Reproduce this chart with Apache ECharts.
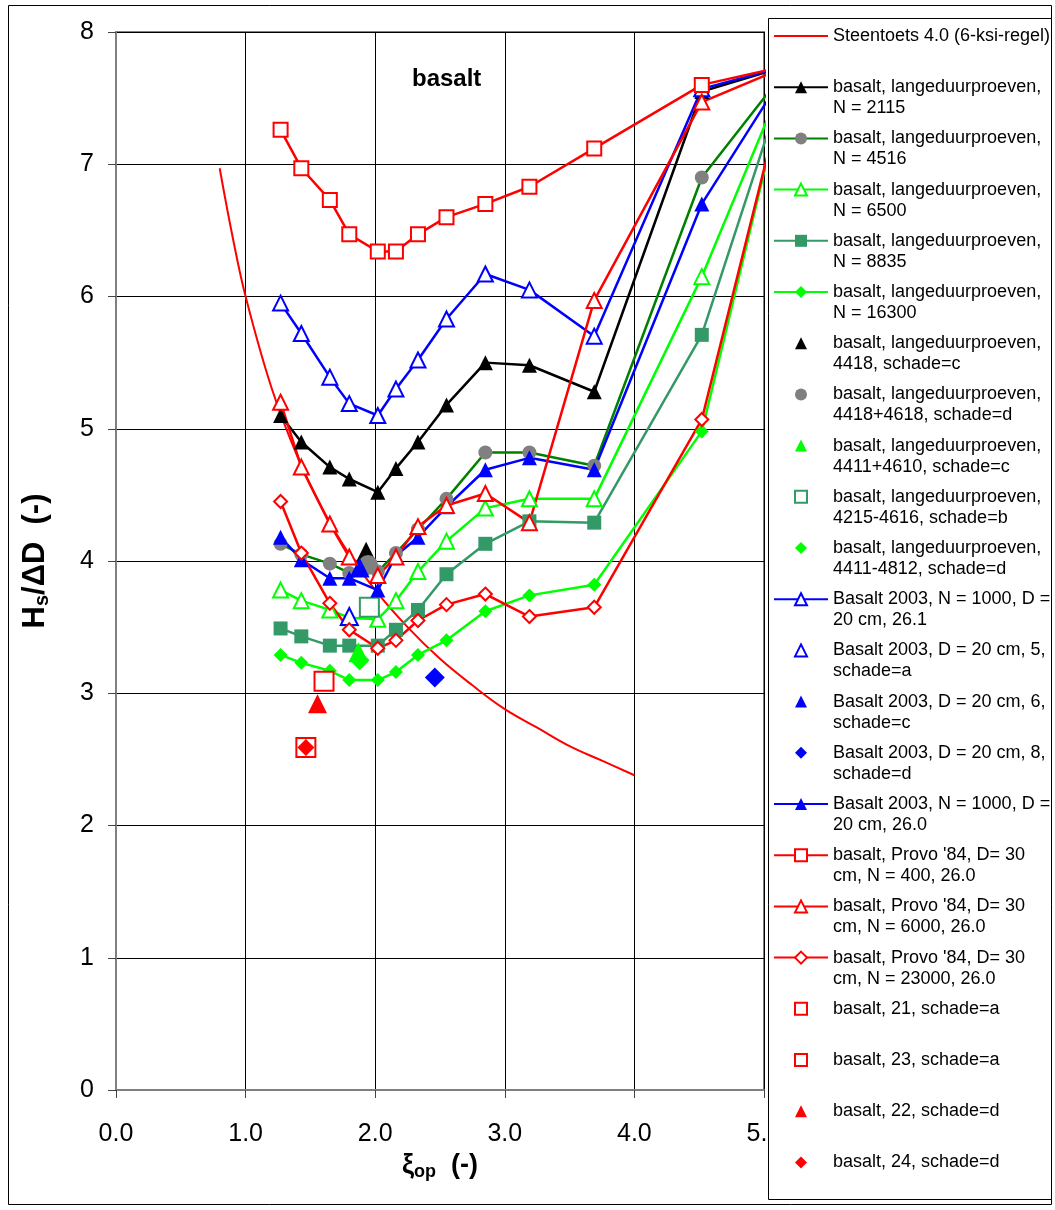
<!DOCTYPE html>
<html>
<head>
<meta charset="utf-8">
<script src="https://cdn.jsdelivr.net/npm/echarts@6/dist/echarts.min.js"></script>
<style>
  html, body { margin: 0; padding: 0; background: #fff; }
  #chart { width: 1055px; height: 1210px; }
</style>
</head>
<body>
<div id="chart"></div>
<script>
// Surf similarity parameter of the test runs (shared by all measured series)
const XI = [1.27, 1.43, 1.65, 1.80, 2.02, 2.16, 2.33, 2.55, 2.85, 3.19, 3.69, 4.52, 5.20];

// Steentoets 4.0 design rule
const xiSteentoets = [0.80, 0.90, 1.00, 1.20, 1.40, 1.60, 1.80, 2.00, 2.25, 2.50, 2.75, 3.00, 3.25, 3.50, 3.75, 4.00];
const hsSteentoets = [6.97, 6.45, 6.00, 5.31, 4.79, 4.38, 4.05, 3.78, 3.50, 3.26, 3.06, 2.88, 2.74, 2.60, 2.49, 2.38];

// Long-duration tests (langeduurproeven), Hs/ΔD per ξ
const hsN2115  = [5.10, 4.90, 4.71, 4.62, 4.52, 4.70, 4.90, 5.18, 5.50, 5.48, 5.28, 7.55, 7.75];
const hsN4516  = [4.13, 4.05, 3.98, 3.91, 3.92, 4.06, 4.24, 4.47, 4.82, 4.82, 4.72, 6.90, 7.75];
const hsN6500  = [3.78, 3.70, 3.63, 3.57, 3.56, 3.70, 3.92, 4.15, 4.40, 4.47, 4.47, 6.15, 7.75];
const hsN8835  = [3.49, 3.43, 3.36, 3.36, 3.36, 3.48, 3.63, 3.90, 4.13, 4.30, 4.29, 5.71, 7.75];
const hsN16300 = [3.29, 3.23, 3.17, 3.10, 3.10, 3.16, 3.29, 3.40, 3.62, 3.74, 3.82, 4.98, 7.75];

// Basalt 2003
const hsB2003a = [5.95, 5.72, 5.39, 5.19, 5.10, 5.30, 5.52, 5.83, 6.17, 6.05, 5.70, 7.57, 7.75];
const hsB2003b = [4.18, 4.01, 3.87, 3.87, 3.78, 4.04, 4.18, 4.41, 4.69, 4.78, 4.69, 6.70, 7.75];

// Provo '84
const hsProvo400   = [7.26, 6.97, 6.73, 6.47, 6.34, 6.34, 6.47, 6.60, 6.70, 6.83, 7.12, 7.60, 7.75];
const hsProvo6000  = [5.20, 4.71, 4.28, 4.03, 3.89, 4.03, 4.26, 4.42, 4.51, 4.29, 5.97, 7.47, 7.75];
const hsProvo23000 = [4.45, 4.06, 3.68, 3.48, 3.34, 3.40, 3.55, 3.67, 3.75, 3.58, 3.65, 5.07, 7.75];

// Single damage observations [ξ, Hs/ΔD]
const pt4418c   = [1.93, 4.07];
const pt4418d   = [1.945, 3.97];
const pt4411c   = [1.87, 3.31];
const pt4215b   = [1.955, 3.65];
const pt4411d   = [1.88, 3.25];
const ptB5a     = [1.80, 3.58];
const ptB6c     = [1.88, 3.95];
const ptB8d     = [2.46, 3.12];
const pt21a     = [1.605, 3.09];
const pt23a     = [1.465, 2.59];
const pt22d     = [1.555, 2.92];
const pt24d     = [1.465, 2.59];

// Axis ticks
const xTicks = [0, 1, 2, 3, 4, 5];
const yTicks = [0, 1, 2, 3, 4, 5, 6, 7, 8];

// Legend texts; each entry is a two-line block, first line level with the key
const legendLines = {
  'steentoets': ['Steentoets 4.0 (6-ksi-regel)', ''],
  'n2115': ['basalt, langeduurproeven,', 'N = 2115'],
  'n4516': ['basalt, langeduurproeven,', 'N = 4516'],
  'n6500': ['basalt, langeduurproeven,', 'N = 6500'],
  'n8835': ['basalt, langeduurproeven,', 'N = 8835'],
  'n16300': ['basalt, langeduurproeven,', 'N = 16300'],
  'p4418c': ['basalt, langeduurproeven,', '4418, schade=c'],
  'p4418d': ['basalt, langeduurproeven,', '4418+4618, schade=d'],
  'p4411c': ['basalt, langeduurproeven,', '4411+4610, schade=c'],
  'p4215b': ['basalt, langeduurproeven,', '4215-4616, schade=b'],
  'p4411d': ['basalt, langeduurproeven,', '4411-4812, schade=d'],
  'b2003a': ['Basalt 2003, N = 1000, D =', '20 cm, 26.1'],
  'pB5a': ['Basalt 2003, D = 20 cm, 5,', 'schade=a'],
  'pB6c': ['Basalt 2003, D = 20 cm, 6,', 'schade=c'],
  'pB8d': ['Basalt 2003, D = 20 cm, 8,', 'schade=d'],
  'b2003b': ['Basalt 2003, N = 1000, D =', '20 cm, 26.0'],
  'provo400': ["basalt, Provo '84, D= 30", 'cm, N = 400, 26.0'],
  'provo6000': ["basalt, Provo '84, D= 30", 'cm, N = 6000, 26.0'],
  'provo23000': ["basalt, Provo '84, D= 30", 'cm, N = 23000, 26.0'],
  'p21a': ['basalt, 21, schade=a', ''],
  'p23a': ['basalt, 23, schade=a', ''],
  'p22d': ['basalt, 22, schade=d', ''],
  'p24d': ['basalt, 24, schade=d', '']
};

const FONT = '"Liberation Sans", Arial, sans-serif';
const RED = '#FF0000', BLUE = '#0000FF', LIME = '#00FF00', SEA = '#339966',
      DKGREEN = '#008000', GREY = '#808080', BLACK = '#000000';

function pairs(xs, ys) { return xs.map((x, i) => [x, ys[i]]); }

function markerStyle(color, open) {
  return open
    ? { color: '#FFFFFF', borderColor: color, borderWidth: 2 }
    : { color: color, borderColor: color, borderWidth: 0 };
}

// connected test series
function lineSeries(name, ys, lineColor, symbol, size, fill, open) {
  return {
    type: 'line', name: name, data: pairs(XI, ys),
    symbol: symbol, symbolSize: size, showSymbol: true,
    lineStyle: { color: lineColor, width: 2.5 },
    itemStyle: markerStyle(fill, open),
    emphasis: { disabled: true }, animation: false, z: 2
  };
}

// single observation: marker only, no connecting line (also hidden in the key)
function pointSeries(name, pt, symbol, size, color, open) {
  return {
    type: 'line', name: name, data: [pt],
    symbol: symbol, symbolSize: size, showSymbol: true,
    lineStyle: { color: color, width: 0, opacity: 0 },
    itemStyle: markerStyle(color, open),
    emphasis: { disabled: true }, animation: false, z: 2
  };
}

const series = [
  {
    type: 'line', name: 'steentoets', data: pairs(xiSteentoets, hsSteentoets),
    smooth: 0.4, symbol: 'none', showSymbol: false,
    lineStyle: { color: RED, width: 2 }, itemStyle: { color: RED, opacity: 0 },
    emphasis: { disabled: true }, animation: false, z: 2
  },
  lineSeries('n2115', hsN2115, BLACK, 'triangle', 15, BLACK, false),
  lineSeries('n4516', hsN4516, DKGREEN, 'circle', 14, GREY, false),
  lineSeries('n6500', hsN6500, LIME, 'triangle', 15, LIME, true),
  lineSeries('n8835', hsN8835, SEA, 'rect', 14, SEA, false),
  lineSeries('n16300', hsN16300, LIME, 'diamond', 14, LIME, false),
  pointSeries('p4418c', pt4418c, 'triangle', 20, BLACK, false),
  pointSeries('p4418d', pt4418d, 'circle', 20, GREY, false),
  pointSeries('p4411c', pt4411c, 'triangle', 20, LIME, false),
  pointSeries('p4215b', pt4215b, 'rect', 19, SEA, true),
  pointSeries('p4411d', pt4411d, 'diamond', 20, LIME, false),
  lineSeries('b2003a', hsB2003a, BLUE, 'triangle', 15, BLUE, true),
  pointSeries('pB5a', ptB5a, 'triangle', 17, BLUE, true),
  pointSeries('pB6c', ptB6c, 'triangle', 20, BLUE, false),
  pointSeries('pB8d', ptB8d, 'diamond', 20, BLUE, false),
  lineSeries('b2003b', hsB2003b, BLUE, 'triangle', 15, BLUE, false),
  lineSeries('provo400', hsProvo400, RED, 'rect', 14, RED, true),
  lineSeries('provo6000', hsProvo6000, RED, 'triangle', 15, RED, true),
  lineSeries('provo23000', hsProvo23000, RED, 'diamond', 13, RED, true),
  pointSeries('p21a', pt21a, 'rect', 19, RED, true),
  pointSeries('p23a', pt23a, 'rect', 19, RED, true),
  pointSeries('p22d', pt22d, 'triangle', 19, RED, false),
  pointSeries('p24d', pt24d, 'diamond', 17, RED, false)
];

const chart = echarts.init(document.getElementById('chart'), null, { renderer: 'canvas' });

chart.setOption({
  animation: false,
  backgroundColor: '#FFFFFF',
  textStyle: { fontFamily: FONT },
  title: {
    text: 'basalt', left: 412, top: 67, padding: 0,
    textStyle: { fontFamily: FONT, fontSize: 24, fontWeight: 'bold', color: '#000' }
  },
  grid: {
    left: 116, top: 32, right: 291, bottom: 120,
    show: true, borderColor: GREY, borderWidth: 2, backgroundColor: 'transparent'
  },
  xAxis: {
    type: 'value', min: xTicks[0], max: xTicks[xTicks.length - 1], interval: 1,
    name: '{m|ξ}{s|op}{m|  (-)}', nameLocation: 'middle', nameGap: 56,
    nameTextStyle: {
      rich: {
        m: { fontFamily: FONT, fontSize: 27, fontWeight: 'bold', color: '#000', lineHeight: 32 },
        s: { fontFamily: FONT, fontSize: 18, fontWeight: 'bold', color: '#000', verticalAlign: 'bottom', lineHeight: 18 }
      }
    },
    axisLine: { show: true, onZero: false, lineStyle: { color: GREY, width: 2 } },
    axisTick: { show: true, length: 8, lineStyle: { color: '#444', width: 1 } },
    axisLabel: {
      margin: 32, fontFamily: FONT, fontSize: 25, color: '#000',
      formatter: v => v.toFixed(1)
    },
    splitLine: { show: true, lineStyle: { color: '#000', width: 1 } }
  },
  yAxis: {
    type: 'value', min: yTicks[0], max: yTicks[yTicks.length - 1], interval: 1,
    name: '{m|H}{s|s}{m|/ΔD  (-)}', nameLocation: 'middle', nameGap: 64, nameRotate: 90,
    nameTextStyle: {
      rich: {
        m: { fontFamily: FONT, fontSize: 31, fontWeight: 'bold', color: '#000', lineHeight: 34 },
        s: { fontFamily: FONT, fontSize: 20, fontWeight: 'bold', color: '#000', verticalAlign: 'bottom', lineHeight: 20 }
      }
    },
    axisLine: { show: true, onZero: false, lineStyle: { color: GREY, width: 2 } },
    axisTick: { show: true, length: 8, lineStyle: { color: '#444', width: 1 } },
    axisLabel: { margin: 22, fontFamily: FONT, fontSize: 25, color: '#000' },
    splitLine: { show: true, lineStyle: { color: '#000', width: 1 } }
  },
  legend: {
    orient: 'vertical', left: 773, top: 4.5, padding: 0,
    itemWidth: 54, itemHeight: 15, itemGap: -11.8,
    selectedMode: false, z: 4,
    data: series.map(s => s.name),
    // a leading blank line keeps the first text line level with the key
    formatter: n => '\n' + legendLines[n].join('\n'),
    textStyle: { fontFamily: FONT, fontSize: 18, lineHeight: 21, color: '#000' }
  },
  graphic: [
    {
      type: 'rect', z: -1, silent: true,
      shape: { x: 8.5, y: 5.5, width: 1043, height: 1199 },
      style: { fill: 'none', stroke: '#000', lineWidth: 1 }
    },
    {
      type: 'rect', z: 3, silent: true,
      shape: { x: 768.5, y: 18.5, width: 283, height: 1181 },
      style: { fill: '#FFFFFF', stroke: '#000', lineWidth: 1 }
    }
  ],
  series: series
});
</script>
</body>
</html>
